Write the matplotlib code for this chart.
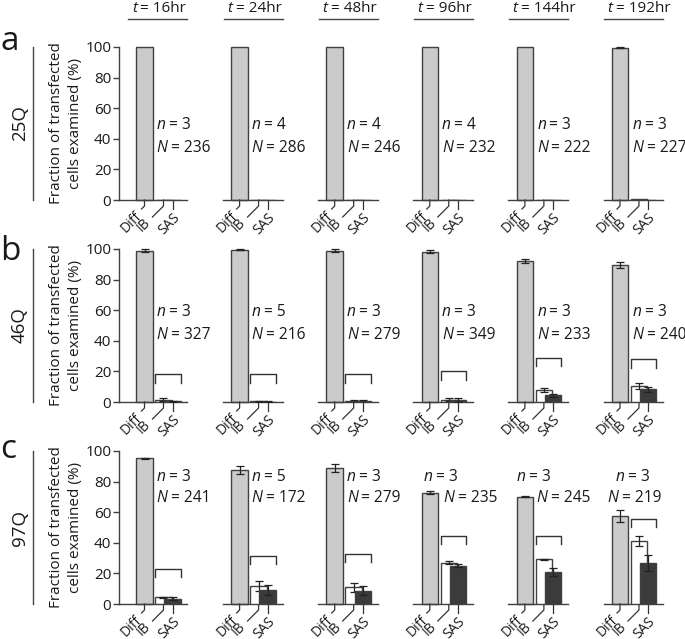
import matplotlib
matplotlib.use('Agg')
import matplotlib.pyplot as plt
import matplotlib.transforms as mtrans
from matplotlib.lines import Line2D

FONT = 'Open Sans'
plt.rcParams['font.family'] = [FONT, 'DejaVu Sans']

# data
times = ['16hr', '24hr', '48hr', '96hr', '144hr', '192hr']
rows = ['25Q', '46Q', '97Q']
letters = ['a', 'b', 'c']
cats = ['Diff', 'IB', 'SAS']

diff_mean = [[100, 100, 100, 100, 100, 99.5],
             [99.0, 99.5, 99.0, 98.2, 92.3, 89.5],
             [95.2, 87.6, 88.9, 72.8, 70.2, 57.7]]
diff_err = [[0, 0, 0, 0, 0, 0.4],
            [1.0, 0.4, 0.8, 1.0, 1.3, 1.8],
            [0.4, 2.8, 2.8, 1.2, 0.5, 3.8]]
ib_mean = [[0, 0, 0, 0, 0, 0.4],
           [1.5, 0.6, 0.6, 1.6, 7.8, 10.5],
           [4.3, 11.8, 10.9, 27.0, 29.2, 41.4]]
ib_err = [[0, 0, 0, 0, 0, 0],
          [1.0, 0.3, 1.0, 1.2, 1.1, 2.0],
          [0.4, 3.5, 2.8, 1.0, 0.5, 3.3]]
sas_mean = [[0, 0, 0, 0, 0, 0],
            [0.4, 0.3, 0.5, 1.3, 4.4, 8.3],
            [3.5, 9.2, 8.7, 25.1, 20.7, 26.6]]
sas_err = [[0, 0, 0, 0, 0, 0],
           [0.3, 0.2, 1.0, 1.4, 1.0, 1.5],
           [0.8, 3.5, 2.8, 1.0, 2.6, 5.1]]
n_vals = [[3, 4, 4, 4, 3, 3],
          [3, 5, 3, 3, 3, 3],
          [3, 5, 3, 3, 3, 3]]
N_vals = [[236, 286, 246, 232, 222, 227],
          [327, 216, 279, 349, 233, 240],
          [241, 172, 279, 235, 245, 219]]
bracket_y = [None,
             [18, 18, 18, 20, 29, 28],
             [23, 31.6, 33, 44.4, 44.4, 55.6]]

# layout (pixels)
W, H = 685, 639
U = 16.5                       # px per x unit
col_c = [144.5 + 95.1 * k for k in range(6)]
row_zero = [200, 402, 604]
row_h = 153
x_pos = [0, 1.15, 1.7]
n_y = [50, 60, 84]
N_y = [35, 45, 70]
n_x = [[0.74] * 6, [0.74] * 6, [0.74, 0.74, 0.74, -0.36, -0.5, -0.25]]
N_x = [[0.74] * 6, [0.74] * 6, [0.74, 0.74, 0.74, 0.83, 0.7, -0.75]]
letter_base = [50, 260, 458]

C_DIFF = '#cbcbcb'
C_SAS = '#3b3b3b'
EDGE = '#404040'
TXT = '#1a1a1a'

fig = plt.figure(figsize=(W / 100, H / 100), dpi=100)

# overlay in pixel coordinates for headers, side labels
ov = fig.add_axes([0, 0, 1, 1], zorder=10)
ov.set_xlim(0, W)
ov.set_ylim(H, 0)
ov.axis('off')
ov.patch.set_visible(False)


def two_part(ax, x, y, first, rest, size, transform, gap=2.5):
    # italic symbol followed by upright "= value"
    t1 = ax.text(x, y, first, fontsize=size, fontstyle='italic',
                 ha='left', va='baseline', color=TXT,
                 transform=transform, clip_on=False)
    ax.annotate(rest, xy=(1, 0), xycoords=t1, xytext=(gap, 0),
                textcoords='offset points', fontsize=size,
                ha='left', va='bottom', color=TXT, annotation_clip=False)
    return t1


def px_off(base, dx, dy):
    return base + mtrans.ScaledTranslation(dx / 100, dy / 100, fig.dpi_scale_trans)


for r in range(3):
    for k in range(6):
        xmin = -1.55 if k == 0 else -1.0
        xmax = 2.6
        left = col_c[k] + xmin * U
        ax = fig.add_axes([left / W, 1 - row_zero[r] / H,
                           (xmax - xmin) * U / W, row_h / H])
        ax.set_xlim(xmin, xmax)
        ax.set_ylim(0, 100)
        ax.patch.set_visible(False)
        for s in ['top', 'right']:
            ax.spines[s].set_visible(False)
        ax.spines['bottom'].set_color(EDGE)
        ax.spines['bottom'].set_linewidth(1)
        if k == 0:
            ax.spines['left'].set_color(EDGE)
            ax.spines['left'].set_linewidth(1)
            ax.set_yticks([0, 20, 40, 60, 80, 100])
            ax.tick_params(axis='y', length=4, width=1, color=EDGE,
                           labelsize=11, pad=1.5, labelcolor=TXT)
        else:
            ax.spines['left'].set_visible(False)
            ax.set_yticks([])
        ax.set_xticks([])

        ekw = dict(ecolor='#222222', elinewidth=0.9, capsize=3, capthick=0.9)
        ax.bar(x_pos[0], diff_mean[r][k], width=1, color=C_DIFF,
               edgecolor=EDGE, linewidth=1, zorder=2, clip_on=False)
        if diff_err[r][k] > 0:
            ax.errorbar(x_pos[0], diff_mean[r][k], yerr=diff_err[r][k],
                        fmt='none', zorder=3, clip_on=False, **ekw)
        ax.bar(x_pos[1], ib_mean[r][k], width=1, color='white',
               edgecolor=EDGE, linewidth=1, zorder=4)
        if ib_err[r][k] > 0:
            ax.errorbar(x_pos[1], ib_mean[r][k], yerr=ib_err[r][k],
                        fmt='none', zorder=5, **ekw)
        ax.bar(x_pos[2], sas_mean[r][k], width=1, color=C_SAS,
               edgecolor=EDGE, linewidth=1, zorder=6)
        if sas_err[r][k] > 0:
            ax.errorbar(x_pos[2], sas_mean[r][k], yerr=sas_err[r][k],
                        fmt='none', zorder=7, **ekw)

        # bracket over IB/SAS
        if bracket_y[r] is not None:
            by = bracket_y[r][k]
            bx0 = x_pos[1] - 0.5
            bx1 = x_pos[2] + 0.5
            ax.plot([bx0, bx0, bx1, bx1], [by - 5.5, by, by, by - 5.5],
                    color='#333333', lw=1, zorder=8)

        # n / N text (y given as centre, baseline a bit lower)
        two_part(ax, n_x[r][k], n_y[r] - 3.5, 'n', '= %d' % n_vals[r][k], 11.2,
                 ax.transData)
        two_part(ax, N_x[r][k], N_y[r] - 3.5, 'N', '= %d' % N_vals[r][k], 11.2,
                 ax.transData)

        # x tick marks with leader lines, labels at 45 degrees
        base = ax.get_xaxis_transform()
        leaders = [[(0, 0), (0, -6), (-3, -9)],
                   [(0, 0), (0, -6), (-11, -17)],
                   [(0, 0), (0, -9)]]
        anchors = [(-4.5, -14), (-15, -20.5), (5, -16)]
        for i, lab in enumerate(cats):
            verts = [px_off(base, dx, dy).transform((x_pos[i], 0))
                     for (dx, dy) in leaders[i]]
            ax.add_line(Line2D([v[0] for v in verts], [v[1] for v in verts],
                               color='#333333', lw=0.9, transform=None,
                               clip_on=False))
            adx, ady = anchors[i]
            ax.text(x_pos[i], 0, lab, transform=px_off(base, adx, ady),
                    rotation=45, rotation_mode='anchor', ha='right',
                    va='center', fontsize=10, color=TXT, clip_on=False)

        if k == 0:
            ov.text(66, row_zero[r] - row_h / 2,
                    'Fraction of transfected\ncells examined (%)',
                    rotation=90, ha='center', va='center', fontsize=11,
                    multialignment='center', linespacing=1.35, color=TXT)

    # row label, side line, panel letter
    top = row_zero[r] - row_h
    ov.plot([33, 33], [top, row_zero[r]], color='#444444', lw=1)
    ov.text(20, row_zero[r] - row_h / 2, rows[r], rotation=90,
            ha='center', va='center', fontsize=13.5, color=TXT)
    ov.text(0, letter_base[r], letters[r], fontsize=24,
            ha='left', va='baseline', color=TXT)

# column headers
for k in range(6):
    x0, x1 = col_c[k] - 16, col_c[k] + 43
    ov.plot([x0, x1], [19, 19], color='#444444', lw=1)
    two_part(ov, col_c[k] - 12.5, 12.5, 't', '= ' + times[k], 11, ov.transData,
             gap=2.5)

fig.savefig('out.png', dpi=100)
